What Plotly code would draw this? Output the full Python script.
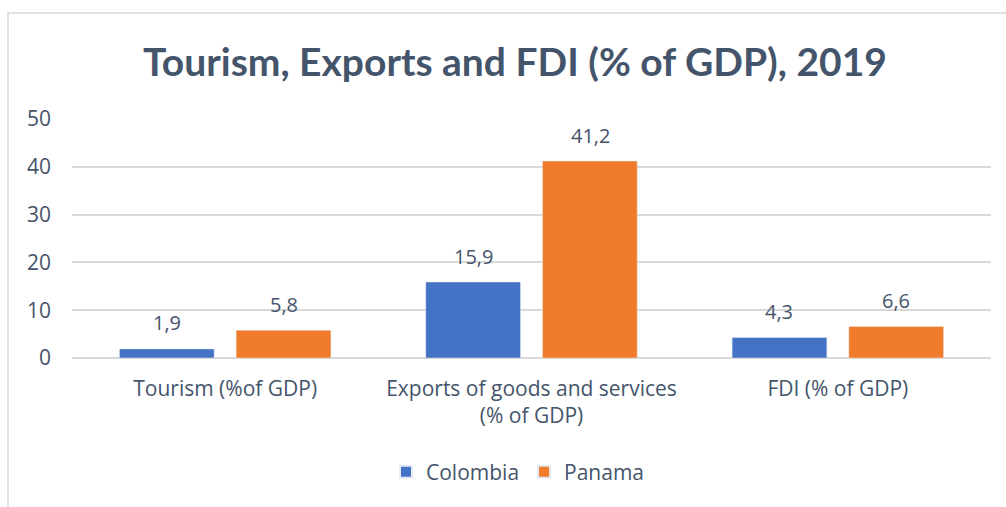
import plotly.graph_objects as go

categories = ["Tourism (%of GDP)", "Exports of goods and services<br>(% of GDP)", "FDI (% of GDP)"]
colombia = [1.9, 15.9, 4.3]
panama = [5.8, 41.2, 6.6]
series_names = ["Colombia", "Panama"]
y_ticks = [0, 10, 20, 30, 40, 50]

W, H = 1006, 507
L, R, T, B = 72, 15, 119, 149
pw, ph = W - L - R, H - T - B

def px_x(p):
    return (p - L) / pw

def px_y(p):
    return (H - B - p) / ph

TEXT = "#44546A"
FONT = "Open Sans"
TFONT = "Lato"
FS = 21

fig = go.Figure()
fig.add_trace(go.Bar(name=series_names[0], x=categories, y=colombia, marker_color="#4472C4"))
fig.add_trace(go.Bar(name=series_names[1], x=categories, y=panama, marker_color="#F07B2B"))

for vals, shift in ((colombia, -58.5), (panama, 58.5)):
    for c, v in zip(categories, vals):
        fig.add_annotation(x=c, y=v, xref="x", yref="y", text=f"{v:.1f}".replace(".", ","),
                           showarrow=False, xshift=shift, yshift=26,
                           font=dict(family=FONT, size=20, color=TEXT))

fig.add_shape(type="rect", xref="paper", yref="paper",
              x0=px_x(8), x1=px_x(1012), y0=px_y(512), y1=px_y(13),
              line=dict(color="#D9D9D9", width=1.5), fillcolor="rgba(0,0,0,0)", layer="below")

fig.update_layout(
    width=W, height=H,
    margin=dict(l=L, r=R, t=T, b=B),
    paper_bgcolor="white", plot_bgcolor="white",
    title=dict(text="<b>Tourism, Exports and FDI (% of GDP), 2019</b>", x=px_x(515), xanchor="center",
               xref="paper", y=1 - 62 / H, yanchor="middle",
               font=dict(family=TFONT, size=39, color=TEXT)),
    barmode="group", bargap=0.238, bargroupgap=0.188,
    font=dict(family=FONT, size=FS, color=TEXT),
    xaxis=dict(showline=False, showgrid=False, ticks="", ticklabelstandoff=16,
               tickfont=dict(family=FONT, size=FS, color=TEXT)),
    yaxis=dict(range=[0, 50], tickvals=y_ticks, showgrid=True, gridcolor="#D9D9D9", gridwidth=1.5,
               zeroline=True, zerolinecolor="#D9D9D9", zerolinewidth=1.5, showline=False,
               ticks="", ticklabelstandoff=20,
               tickfont=dict(family=FONT, size=FS, color=TEXT)),
    legend=dict(orientation="h", x=px_x(518), xanchor="center", y=px_y(472), yanchor="middle",
                font=dict(family=FONT, size=FS, color=TEXT), itemsizing="constant",
                traceorder="normal"),
    showlegend=True,
)

fig.write_html("out.html")
